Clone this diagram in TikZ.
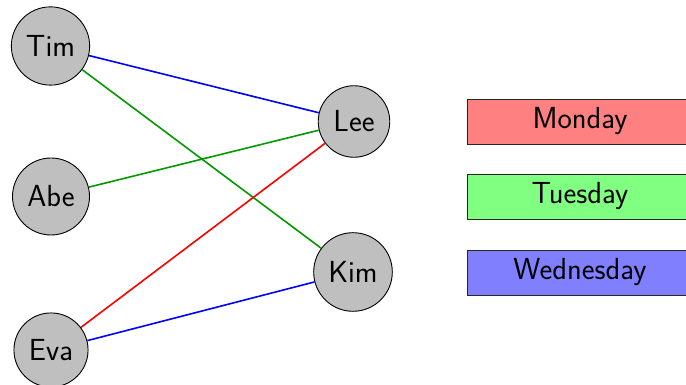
\documentclass[tikz,border=0pt]{standalone}
\begin{document}
\begin{tikzpicture}[x=1pt,y=1pt,
  person/.style={circle,draw=black,fill=gray!50,line width=0.9pt,inner sep=9.25pt,
    font=\sffamily\fontsize{30.5}{36}\selectfont},
  daybox/.style={rectangle,draw=black!85,line width=0.9pt,minimum width=226pt,minimum height=45pt,
    font=\sffamily\fontsize{30.5}{36}\selectfont},
  link/.style={line width=1.6pt}]
\useasboundingbox (0,0) rectangle (686,385);
\clip (0,0) rectangle (686,385);
% people
\node[person] (tim) at (50.5,339) {Tim};
\node[person] (abe) at (51,188.5) {Abe};
\node[person] (eva) at (51,35) {Eva};
\node[person] (lee) at (354,263.5) {Lee};
\node[person] (kim) at (353,113) {Kim};
% days
\node[daybox,fill=red!50] (mon) at (580,263.5) {Monday};
\node[daybox,fill=green!50] (tue) at (580,188.5) {Tuesday};
\node[daybox,fill=blue!50] (wed) at (580,112.5) {Wednesday};
% assignments
\draw[link,blue] (tim) -- (lee);
\draw[link,green!60!black] (tim) -- (kim);
\draw[link,green!60!black] (abe) -- (lee);
\draw[link,red] (eva) -- (lee);
\draw[link,blue] (eva) -- (kim);
\end{tikzpicture}
\end{document}
